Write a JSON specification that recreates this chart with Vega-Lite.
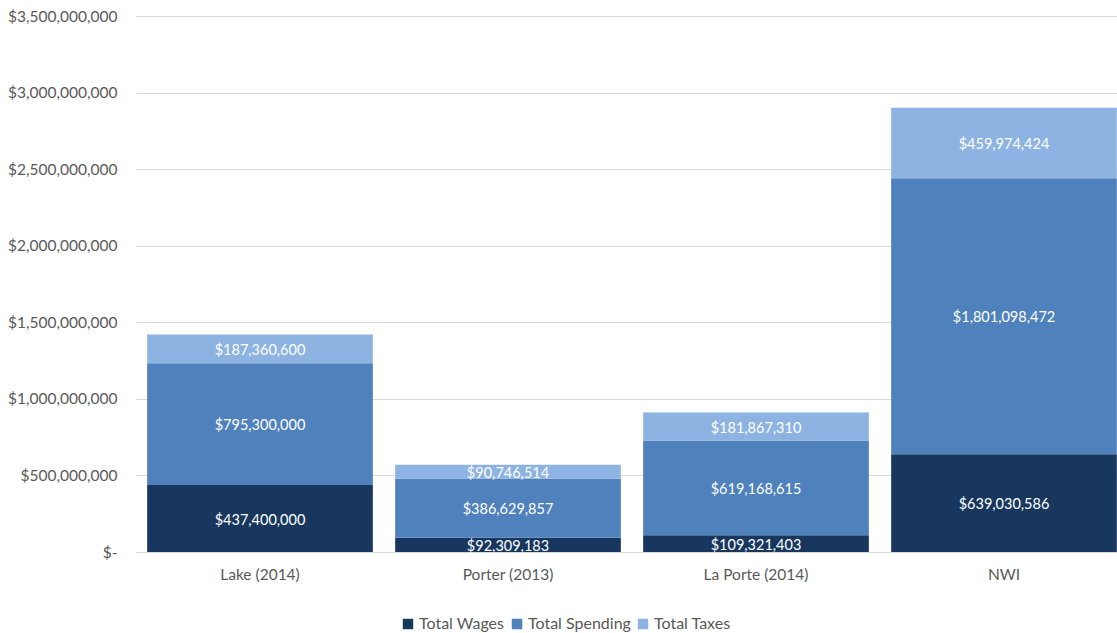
{
  "$schema": "https://vega.github.io/schema/vega-lite/v6.json",
  "autosize": "none",
  "width": 992,
  "height": 536,
  "padding": {"left": 136, "top": 16, "right": 0, "bottom": 81},
  "background": "white",
  "config": {
    "font": "Lato",
    "view": {"stroke": null}
  },
  "data": {
    "values": [
      {"region": "Lake (2014)", "category": "Total Wages", "idx": 1, "value": 437400000},
      {"region": "Lake (2014)", "category": "Total Spending", "idx": 2, "value": 795300000},
      {"region": "Lake (2014)", "category": "Total Taxes", "idx": 3, "value": 187360600},
      {"region": "Porter (2013)", "category": "Total Wages", "idx": 1, "value": 92309183},
      {"region": "Porter (2013)", "category": "Total Spending", "idx": 2, "value": 386629857},
      {"region": "Porter (2013)", "category": "Total Taxes", "idx": 3, "value": 90746514},
      {"region": "La Porte (2014)", "category": "Total Wages", "idx": 1, "value": 109321403},
      {"region": "La Porte (2014)", "category": "Total Spending", "idx": 2, "value": 619168615},
      {"region": "La Porte (2014)", "category": "Total Taxes", "idx": 3, "value": 181867310},
      {"region": "NWI", "category": "Total Wages", "idx": 1, "value": 639030586},
      {"region": "NWI", "category": "Total Spending", "idx": 2, "value": 1801098472},
      {"region": "NWI", "category": "Total Taxes", "idx": 3, "value": 459974424}
    ]
  },
  "transform": [
    {"stack": "value", "groupby": ["region"], "sort": [{"field": "idx"}], "as": ["v0", "v1"]},
    {"calculate": "(datum.v0 + datum.v1) / 2", "as": "vmid"}
  ],
  "encoding": {
    "x": {
      "field": "region",
      "type": "nominal",
      "sort": ["Lake (2014)", "Porter (2013)", "La Porte (2014)", "NWI"],
      "scale": {"paddingInner": 0.09, "paddingOuter": 0.045},
      "axis": {
        "title": null,
        "labelAngle": 0,
        "labelFontSize": 15.5,
        "labelColor": "#595959",
        "labelPadding": 15,
        "ticks": false,
        "domain": true,
        "domainColor": "#d9d9d9"
      }
    }
  },
  "layer": [
    {
      "mark": {"type": "bar"},
      "encoding": {
        "y": {
          "field": "v0",
          "type": "quantitative",
          "scale": {"domain": [0, 3500000000]},
          "axis": {
            "title": null,
            "values": [0, 500000000, 1000000000, 1500000000, 2000000000, 2500000000, 3000000000, 3500000000],
            "labelExpr": "datum.value == 0 ? '$-' : '$' + format(datum.value, ',')",
            "labelOverlap": false,
            "labelFontSize": 15.5,
            "labelColor": "#595959",
            "labelPadding": 19,
            "ticks": false,
            "domain": false,
            "gridColor": "#d9d9d9",
            "gridWidth": 1
          }
        },
        "y2": {"field": "v1"},
        "color": {
          "field": "category",
          "type": "nominal",
          "scale": {
            "domain": ["Total Wages", "Total Spending", "Total Taxes"],
            "range": ["#17375e", "#4f81bd", "#8db3e2"]
          },
          "legend": {
            "title": null,
            "orient": "none",
            "legendX": 264,
            "legendY": 600,
            "direction": "horizontal",
            "symbolType": "square",
            "symbolSize": 110,
            "symbolStrokeWidth": 0,
            "labelFontSize": 16,
            "labelColor": "#595959",
            "columnPadding": 4,
            "labelOffset": 3
          }
        }
      }
    },
    {
      "mark": {"type": "text", "color": "white", "fontSize": 14.5, "baseline": "middle", "dy": 2},
      "encoding": {
        "y": {"field": "vmid", "type": "quantitative"},
        "text": {"field": "value", "type": "quantitative", "format": "$,"}
      }
    }
  ]
}
